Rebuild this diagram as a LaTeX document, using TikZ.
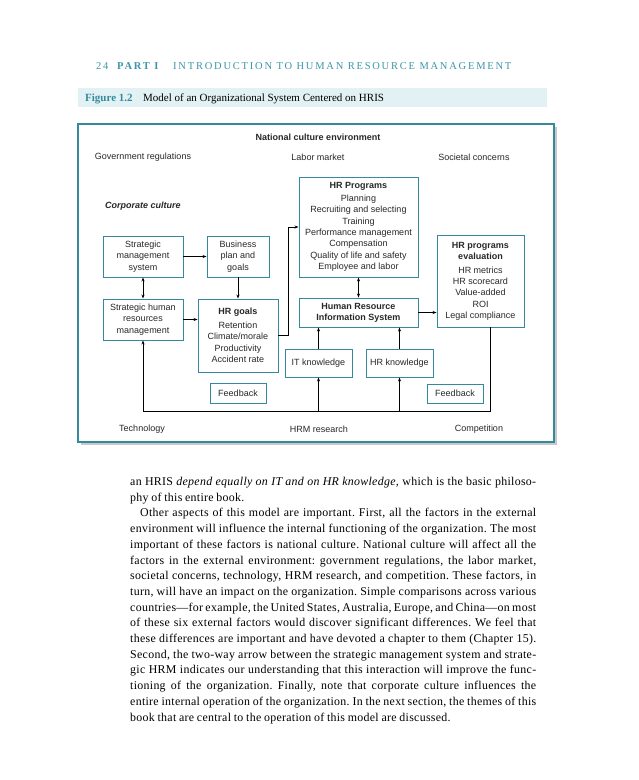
\documentclass[tikz,border=0pt]{standalone}
\usepackage{fontspec}
\setmainfont{Liberation Serif}
\setsansfont{Liberation Sans}
\newfontfamily\hdrfont[LetterSpace=17]{Liberation Serif}
\newfontfamily\bodyfont[LetterSpace=2.5]{Liberation Serif}
\usetikzlibrary{arrows.meta,shadows}
\definecolor{tealb}{RGB}{52,138,156}
\definecolor{capband}{RGB}{226,241,244}
\definecolor{hdrcol}{RGB}{60,150,170}
\definecolor{txt}{RGB}{40,40,40}
\newcommand{\jl}[1]{\hbox to 406pt{#1}}
\newcommand{\el}[1]{\hbox to 406pt{#1\hfil}}
\begin{document}
\begin{tikzpicture}[x=1pt,y=-1pt,
 box/.style={draw=tealb, line width=0.9pt, fill=white, inner sep=0pt, align=center,
   font=\sffamily\fontsize{9}{11.3}\selectfont, text=txt,
   drop shadow={shadow xshift=1.3pt, shadow yshift=-1.3pt, fill=black!30, opacity=0.5}},
 lbl/.style={font=\sffamily\fontsize{9}{11.3}\selectfont, text=txt, inner sep=0pt},
 arr/.style={-{Stealth[length=4pt,width=3pt]}, line width=0.7pt},
 darr/.style={{Stealth[length=4pt,width=3pt]}-{Stealth[length=4pt,width=3pt]}, line width=0.7pt},
 ln/.style={line width=0.7pt}]
\useasboundingbox (0,0) rectangle (638,780);
\fill[white] (0,0) rectangle (638,780);
% header
\node[anchor=base west, inner sep=0, text=hdrcol, font=\hdrfont\fontsize{10.5}{12}\selectfont] (pg) at (96,69.5) {24};
\node[anchor=base west, inner sep=0, text=hdrcol, font=\hdrfont\bfseries\fontsize{10.5}{12}\selectfont] (part) at (117,69.5) {PART I};
\node[anchor=base west, inner sep=0, text=hdrcol, font=\hdrfont\fontsize{10.5}{12}\selectfont] (title) at (173,69.5) {INTRODUCTION TO HUMAN RESOURCE MANAGEMENT};
% caption band
\fill[capband] (78,88) rectangle (547,107);
\node[anchor=base west, inner sep=0, text=tealb, font=\bfseries\fontsize{11}{13}\selectfont] (fig) at (85,101) {Figure 1.2};
\node[anchor=base west, inner sep=0, font=\fontsize{11}{13}\selectfont] (cap) at (143,101) {Model of an Organizational System Centered on HRIS};
% outer frame
\draw[tealb, line width=1.2pt, fill=white, drop shadow={shadow xshift=2.5pt, shadow yshift=-2.5pt, fill=black!35, opacity=0.6}] (78,124) rectangle (554,442);
% environment labels
\node[lbl, font=\sffamily\bfseries\fontsize{9}{11}\selectfont] (nce) at (318,137) {National culture environment};
\node[lbl] (gov) at (143,157) {Government regulations};
\node[lbl] (lab) at (318,157) {Labor market};
\node[lbl] (soc) at (474,157) {Societal concerns};
\node[lbl, font=\sffamily\bfseries\itshape\fontsize{9}{11}\selectfont, anchor=west] (corp) at (105,206) {Corporate culture};
\node[lbl] (tech) at (142,429) {Technology};
\node[lbl] (hrmr) at (319,429) {HRM research};
\node[lbl] (comp) at (479,429) {Competition};
% boxes
\node[box, minimum width=80pt, minimum height=41pt] (sms) at (143,256.5) {Strategic\\management\\system};
\node[box, minimum width=62pt, minimum height=41pt] (bpg) at (238,256.5) {Business\\plan and\\goals};
\node[box, minimum width=80pt, minimum height=41pt] (shrm) at (143,319.5) {Strategic human\\resources\\management};
\node[box, minimum width=80pt, minimum height=73pt] (hrg) at (238,335.5) {\textbf{HR goals}\\[2.5pt]Retention\\Climate/morale\\Productivity\\Accident rate};
\node[box, minimum width=56pt, minimum height=20pt] (fb1) at (238,393) {Feedback};
\node[box, minimum width=119pt, minimum height=100pt] (hrp) at (358.5,227) {\textbf{HR Programs}\\[1.5pt]Planning\\Recruiting and selecting\\Training\\Performance management\\Compensation\\Quality of life and safety\\Employee and labor};
\node[box, minimum width=119pt, minimum height=29pt] (hris) at (358.5,312.5) {\textbf{Human Resource}\\\textbf{Information System}};
\node[box, minimum width=87pt, minimum height=92pt] (eval) at (480.5,281) {\textbf{HR programs}\\\textbf{evaluation}\\[2.5pt]HR metrics\\HR scorecard\\Value-added\\ROI\\Legal compliance};
\node[box, minimum width=67pt, minimum height=28pt] (itk) at (318.5,363) {IT knowledge};
\node[box, minimum width=67pt, minimum height=28pt] (hrk) at (399.5,363) {HR knowledge};
\node[box, minimum width=56pt, minimum height=19pt] (fb2) at (455,393.5) {Feedback};
% connectors
\draw[arr] (sms.east) -- (bpg.west);
\draw[arr] (bpg.south) -- (hrg.north);
\draw[darr] (sms.south) -- (shrm.north);
\draw[arr] (shrm.east) -- (hrg.west |- shrm.east);
\draw[arr] (hrg.east) -- ++(10,0) |- (hrp.west);
\draw[darr] (hris.north) -- (hrp.south);
\draw[arr] (hris.east) -- (eval.west |- hris.east);
\draw[arr] (itk.north) -- (itk.north |- hris.south);
\draw[arr] (hrk.north) -- (hrk.north |- hris.south);
\coordinate (fbR) at (490,411.5);
\coordinate (fbL) at (143,411.5);
\draw[ln] (eval.south -| fbR) -- (fbR) -- (fbL);
\draw[arr] (fbL) -- (shrm.south);
\draw[arr] (itk.south |- fbL) -- (itk.south);
\draw[arr] (hrk.south |- fbL) -- (hrk.south);
% body text
\node[anchor=base west, inner sep=0] (body) at (130,485.5) {\begin{minipage}[t]{406pt}\bodyfont\fontsize{11.9}{15.7}\selectfont\frenchspacing
\spaceskip=0.23em plus 0.2em minus 0.08em
\jl{an HRIS \textit{depend equally on IT and on HR knowledge,} which is the basic philoso-}
\el{phy of this entire book.}
\jl{\hspace{10pt}Other aspects of this model are important. First, all the factors in the external}
\jl{environment will influence the internal functioning of the organization. The most}
\jl{important of these factors is national culture. National culture will affect all the}
\jl{factors in the external environment: government regulations, the labor market,}
\jl{societal concerns, technology, HRM research, and competition. These factors, in}
\jl{turn, will have an impact on the organization. Simple comparisons across various}
\jl{countries—for example, the United States, Australia, Europe, and China—on most}
\jl{of these six external factors would discover significant differences. We feel that}
\jl{these differences are important and have devoted a chapter to them (Chapter 15).}
\jl{Second, the two-way arrow between the strategic management system and strate-}
\jl{gic HRM indicates our understanding that this interaction will improve the func-}
\jl{tioning of the organization. Finally, note that corporate culture influences the}
\jl{entire internal operation of the organization. In the next section, the themes of this}
\el{book that are central to the operation of this model are discussed.}
\end{minipage}};
\end{tikzpicture}
\end{document}
